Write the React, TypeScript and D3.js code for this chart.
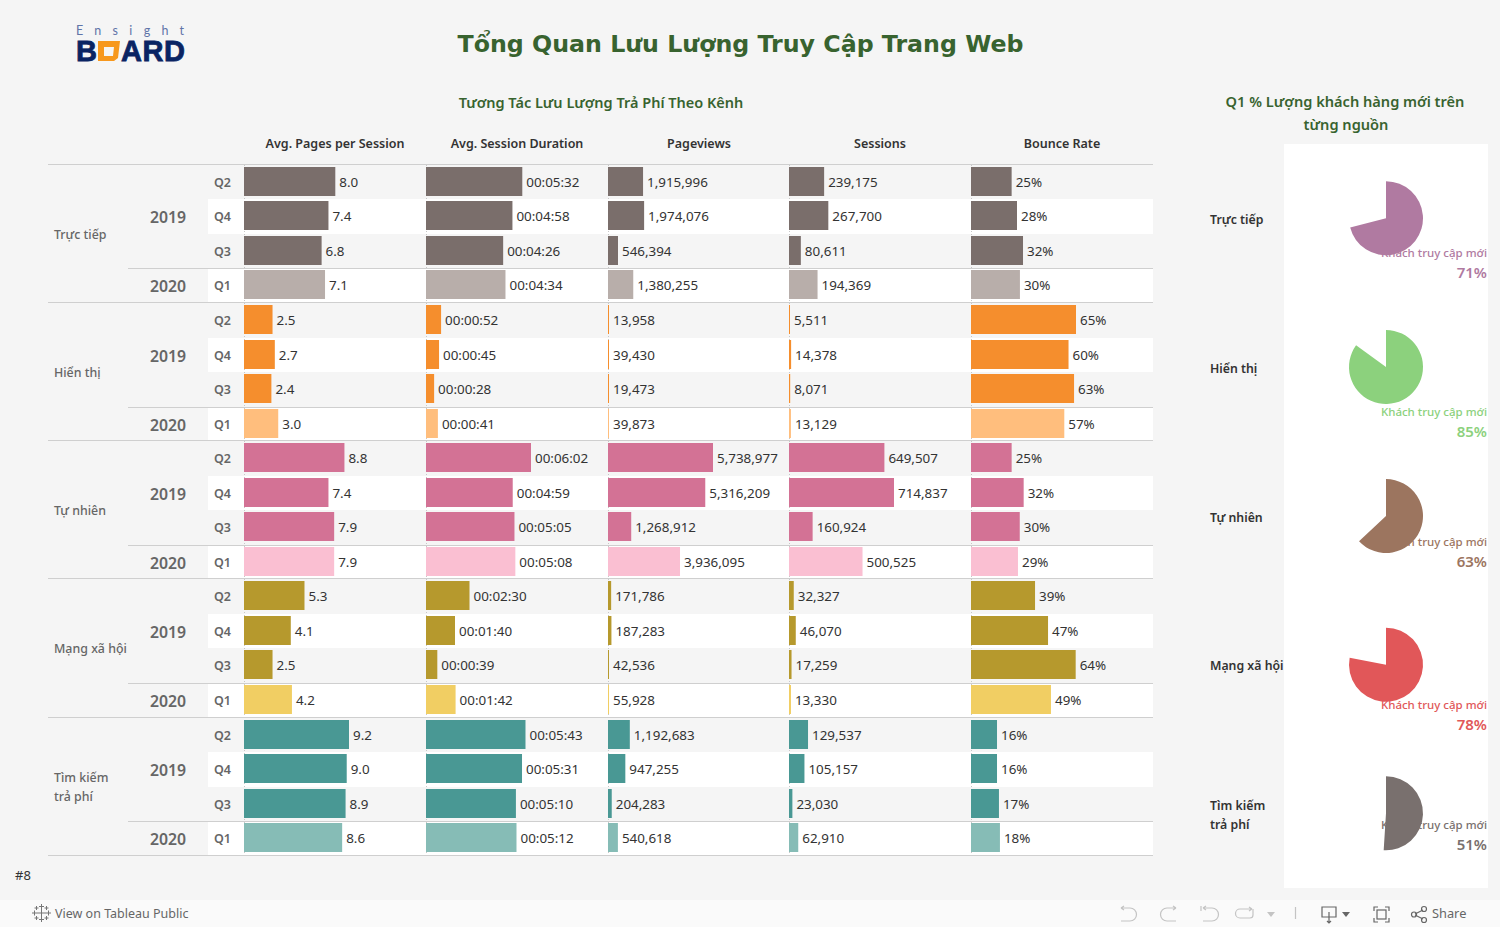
import React from "react";
import * as d3 from "d3";

const channels = ["Trực tiếp", "Hiển thị", "Tự nhiên", "Mạng xã hội", "Tìm kiếm|trả phí"];
const quarters = ["Q2", "Q4", "Q3", "Q1"];
const years = ["2019", "2020"];
const measures = ["Avg. Pages per Session", "Avg. Session Duration", "Pageviews", "Sessions", "Bounce Rate"];

const pagesPerSession = [8.0, 7.4, 6.8, 7.1, 2.5, 2.7, 2.4, 3.0, 8.8, 7.4, 7.9, 7.9, 5.3, 4.1, 2.5, 4.2, 9.2, 9.0, 8.9, 8.6];
const sessionDuration = ["00:05:32", "00:04:58", "00:04:26", "00:04:34", "00:00:52", "00:00:45", "00:00:28", "00:00:41", "00:06:02", "00:04:59", "00:05:05", "00:05:08", "00:02:30", "00:01:40", "00:00:39", "00:01:42", "00:05:43", "00:05:31", "00:05:10", "00:05:12"];
const pageviews = [1915996, 1974076, 546394, 1380255, 13958, 39430, 19473, 39873, 5738977, 5316209, 1268912, 3936095, 171786, 187283, 42536, 55928, 1192683, 947255, 204283, 540618];
const sessions = [239175, 267700, 80611, 194369, 5511, 14378, 8071, 13129, 649507, 714837, 160924, 500525, 32327, 46070, 17259, 13330, 129537, 105157, 23030, 62910];
const bounceRate = [25.0, 28.3, 32.0, 30.1, 64.6, 60.0, 63.4, 57.4, 25.0, 32.4, 30.0, 28.9, 39.4, 47.4, 64.4, 49.2, 16.0, 16.0, 17.2, 17.8];

const color2019 = ["#7a6e6b", "#f58e2d", "#d37295", "#b6992d", "#499894"];
const color2020 = ["#b8aeaa", "#ffbe7d", "#fabfd2", "#f1ce63", "#86bcb6"];
const pieValues = [71, 85, 63, 78, 51];
const pieColors = ["#b07aa1", "#8cd17d", "#9c755f", "#e15759", "#79706e"];

const pieCy = [218.3, 367, 516, 664.7, 813.3];
const pieLabelY = [252, 411, 541, 704, 824];
const piePctY = [271.5, 431, 561, 724, 844];
const pieNameY = [219, 368, 517, 665, 805];

const FONT = "'Noto Sans', sans-serif";
const INK = "#333333";
const GREY = "#666666";
const GREEN = "#38632f";
const RULE = "#cfcfcf";

const toSec = (s: string) => {
  const [h, m, x] = s.split(":").map(Number);
  return h * 3600 + m * 60 + x;
};
const durationSecs = sessionDuration.map(toSec);
const fmt = d3.format(",");

const columns = [
  { x: 244, values: pagesPerSession, label: (i: number) => pagesPerSession[i].toFixed(1) },
  { x: 426, values: durationSecs, label: (i: number) => sessionDuration[i] },
  { x: 608, values: pageviews, label: (i: number) => fmt(pageviews[i]) },
  { x: 789, values: sessions, label: (i: number) => fmt(sessions[i]) },
  { x: 971, values: bounceRate, label: (i: number) => Math.round(bounceRate[i]) + "%" },
];

const rowIds = d3.range(channels.length * quarters.length);
const yBand = d3.scaleBand<number>().domain(d3.range(rowIds.length + 1)).range([164.78, 164.78 + 34.55 * 21]);
const yRow = (i: number) => Math.round(yBand(i)!);
const arcGen = d3.arc<any>().innerRadius(0).outerRadius(37);

const tableauCrosses = [
  [41.5, 913, 4.5], [41.5, 906.5, 2.5], [41.5, 919.5, 2.5], [34.5, 913, 2.5], [48.5, 913, 2.5],
  [36.5, 908, 2], [46.5, 908, 2], [36.5, 918, 2], [46.5, 918, 2],
];

export default function App() {
  return (
    <svg width={1500} height={927} viewBox="0 0 1500 927"
      style={{ position: "fixed", left: 0, top: 0, display: "block", fontFamily: FONT }}>
      <rect width={1500} height={927} fill="#f5f5f5" />

      {/* logo */}
      <text x={76} y={35} fontFamily="'Lato', sans-serif" fontSize={12.5} fill="#5f74a8" letterSpacing={11.3}>Ensight</text>
      <text x={76} y={61} fontFamily="'Liberation Sans', sans-serif" fontWeight={700} fontSize={29} fill="#0a2463" stroke="#0a2463" strokeWidth={0.8}>B</text>
      <text x={121} y={61} fontFamily="'Liberation Sans', sans-serif" fontWeight={700} fontSize={29} fill="#0a2463" stroke="#0a2463" strokeWidth={0.8} textLength={64}>ARD</text>
      <path d="M98 41h22l-2 17-4 3H98zM104 47v9h9l1-9z" fill="#f7981d" fillRule="evenodd" />

      {/* titles */}
      <text x={740.5} y={52} textAnchor="middle" fontFamily="'DejaVu Sans', sans-serif" fontWeight={700} fontSize={23.7} fill={GREEN}>Tổng Quan Lưu Lượng Truy Cập Trang Web</text>
      <text x={601} y={108} textAnchor="middle" fontWeight={600} fontSize={14.5} fill={GREEN}>Tương Tác Lưu Lượng Trả Phí Theo Kênh</text>
      <text x={1345} y={107} textAnchor="middle" fontWeight={600} fontSize={14.6} fill={GREEN}>Q1 % Lượng khách hàng mới trên</text>
      <text x={1346} y={130} textAnchor="middle" fontWeight={600} fontSize={14.6} fill={GREEN}>từng nguồn</text>

      {/* column headers */}
      {measures.map((m, c) => (
        <text key={m} x={columns[c].x + 91} y={148} textAnchor="middle" fontWeight={600} fontSize={12.5} fill={INK}>{m}</text>
      ))}

      {/* stripes */}
      {rowIds.filter((i) => i % 2 === 1).map((i) => (
        <rect key={i} x={208} y={yRow(i)} width={945} height={yRow(i + 1) - yRow(i)} fill="#ffffff" />
      ))}

      {/* zero lines */}
      {columns.map((c) => (
        <line key={c.x} x1={c.x + 0.5} x2={c.x + 0.5} y1={165} y2={856} stroke="#c8c8c8" strokeDasharray="1 2" />
      ))}

      {/* bars and values */}
      {columns.map((c) => {
        const xs = d3.scaleLinear().domain([0, d3.max(c.values)!]).range([0, 105]);
        return rowIds.map((i) => {
          const g = Math.floor(i / quarters.length);
          const isQ1 = i % quarters.length === 3;
          const y = yRow(i);
          const w = Math.max(xs(c.values[i]), 1);
          return (
            <g key={c.x + "-" + i}>
              <rect x={c.x} y={y + 2} width={w} height={29} fill={isQ1 ? color2020[g] : color2019[g]} />
              <text x={c.x + w + 4} y={y + 17} dominantBaseline="central" fontSize={13.4} fill={INK}>{c.label(i)}</text>
            </g>
          );
        });
      })}

      {/* header columns */}
      {rowIds.map((i) => (
        <text key={i} x={214} y={yRow(i) + 17.5} dominantBaseline="central" fontWeight={600} fontSize={12.5} fill={GREY}>{quarters[i % 4]}</text>
      ))}
      {channels.map((ch, g) => {
        const top = yRow(g * 4);
        const lines = ch.split("|");
        return (
          <g key={ch}>
            <text x={150} y={yRow(g * 4 + 1) + 18} dominantBaseline="central" fontWeight={600} fontSize={15.8} fill={GREY}>{years[0]}</text>
            <text x={150} y={yRow(g * 4 + 3) + 18} dominantBaseline="central" fontWeight={600} fontSize={15.8} fill={GREY}>{years[1]}</text>
            {lines.map((l, k) => (
              <text key={l} x={54} y={yRow(g * 4 + 2) - (lines.length - 1) * 9.5 + k * 19} dominantBaseline="central" fontWeight={500} fontSize={12.4} fill={GREY}>{l}</text>
            ))}
            <line x1={128} x2={1153} y1={yRow(g * 4 + 3) + 0.5} y2={yRow(g * 4 + 3) + 0.5} stroke={RULE} />
            <line x1={48} x2={1153} y1={top - 0.5} y2={top - 0.5} stroke={RULE} />
          </g>
        );
      })}
      <line x1={48} x2={1153} y1={855.5} y2={855.5} stroke={RULE} />

      {/* right panel */}
      <rect x={1284} y={144} width={204} height={744} fill="#ffffff" />
      {channels.map((ch, g) => (
        <g key={ch}>
          {ch.split("|").map((l, k) => (
            <text key={l} x={1210} y={pieNameY[g] + k * 19} dominantBaseline="central" fontWeight={600} fontSize={12.3} fill={INK}>{l}</text>
          ))}
          <text x={1487} y={pieLabelY[g]} dominantBaseline="central" textAnchor="end" fontWeight={500} fontSize={11.5} fill={pieColors[g]}>Khách truy cập mới</text>
          <text x={1487} y={piePctY[g]} dominantBaseline="central" textAnchor="end" fontWeight={600} fontSize={15} fill={pieColors[g]}>{pieValues[g]}%</text>
        </g>
      ))}
      {channels.map((ch, g) => {
        const slice = d3.pie<number>().sort(null).value((d) => d)([pieValues[g], 100 - pieValues[g]])[0];
        return <path key={ch} transform={`translate(1386,${pieCy[g]})`} d={arcGen(slice)!} fill={pieColors[g]} />;
      })}

      <text x={15} y={880} fontSize={13} fill={INK}>#8</text>

      {/* toolbar */}
      <rect y={900} width={1500} height={27} fill="#fafafa" />
      <g stroke="#777" strokeWidth={1} fill="none">
        {tableauCrosses.map(([cx, cy, r]) => (
          <path key={cx + "-" + cy} d={`M${cx} ${cy - r}v${r * 2}M${cx - r} ${cy}h${r * 2}`} />
        ))}
      </g>
      <text x={55} y={918} fontSize={12.5} fill="#666">View on Tableau Public</text>
      <g stroke="#c4c4c4" strokeWidth={1.2} fill="none">
        <path d="M1121 908h9a6 6 0 0 1 0 13h-9M1121 908l3-2M1121 908l3 2" />
        <path d="M1176 908h-9a6 6 0 0 0 0 13h9M1176 908l-3-2M1176 908l-3 2" />
        <path d="M1203 908h9a6 6 0 0 1 0 13h-9M1203 908l3-2M1203 908l3 2M1201 906v5" />
        <path d="M1252 909h-12a3 3 0 0 0 0 9h10a3 3 0 0 0 3-3v-6M1252 909l-3-2M1252 909l-3 2" />
        <path d="M1295.500 907v12" />
      </g>
      <path d="M1267 912h8l-4 5z" fill="#c4c4c4" />
      <g stroke="#666" strokeWidth={1.2} fill="none">
        <path d="M1329 917h-7v-10h14v10h-7M1329 912v11M1327 921l2 2 2-2" />
        <path d="M1374 911v-4h4M1385 907h4v4M1389 918v4h-4M1378 922h-4v-4" />
        <rect x={1377} y={910} width={9} height={9} />
        <path d="M1415 914l8-4M1415 915l8 4" />
        <circle cx={1414} cy={914.5} r={2.5} />
        <circle cx={1424} cy={909} r={2.5} />
        <circle cx={1424} cy={920} r={2.5} />
      </g>
      <path d="M1342 912h8l-4 5z" fill="#666" />
      <text x={1432} y={918} fontSize={12.8} fill="#666">Share</text>
    </svg>
  );
}
